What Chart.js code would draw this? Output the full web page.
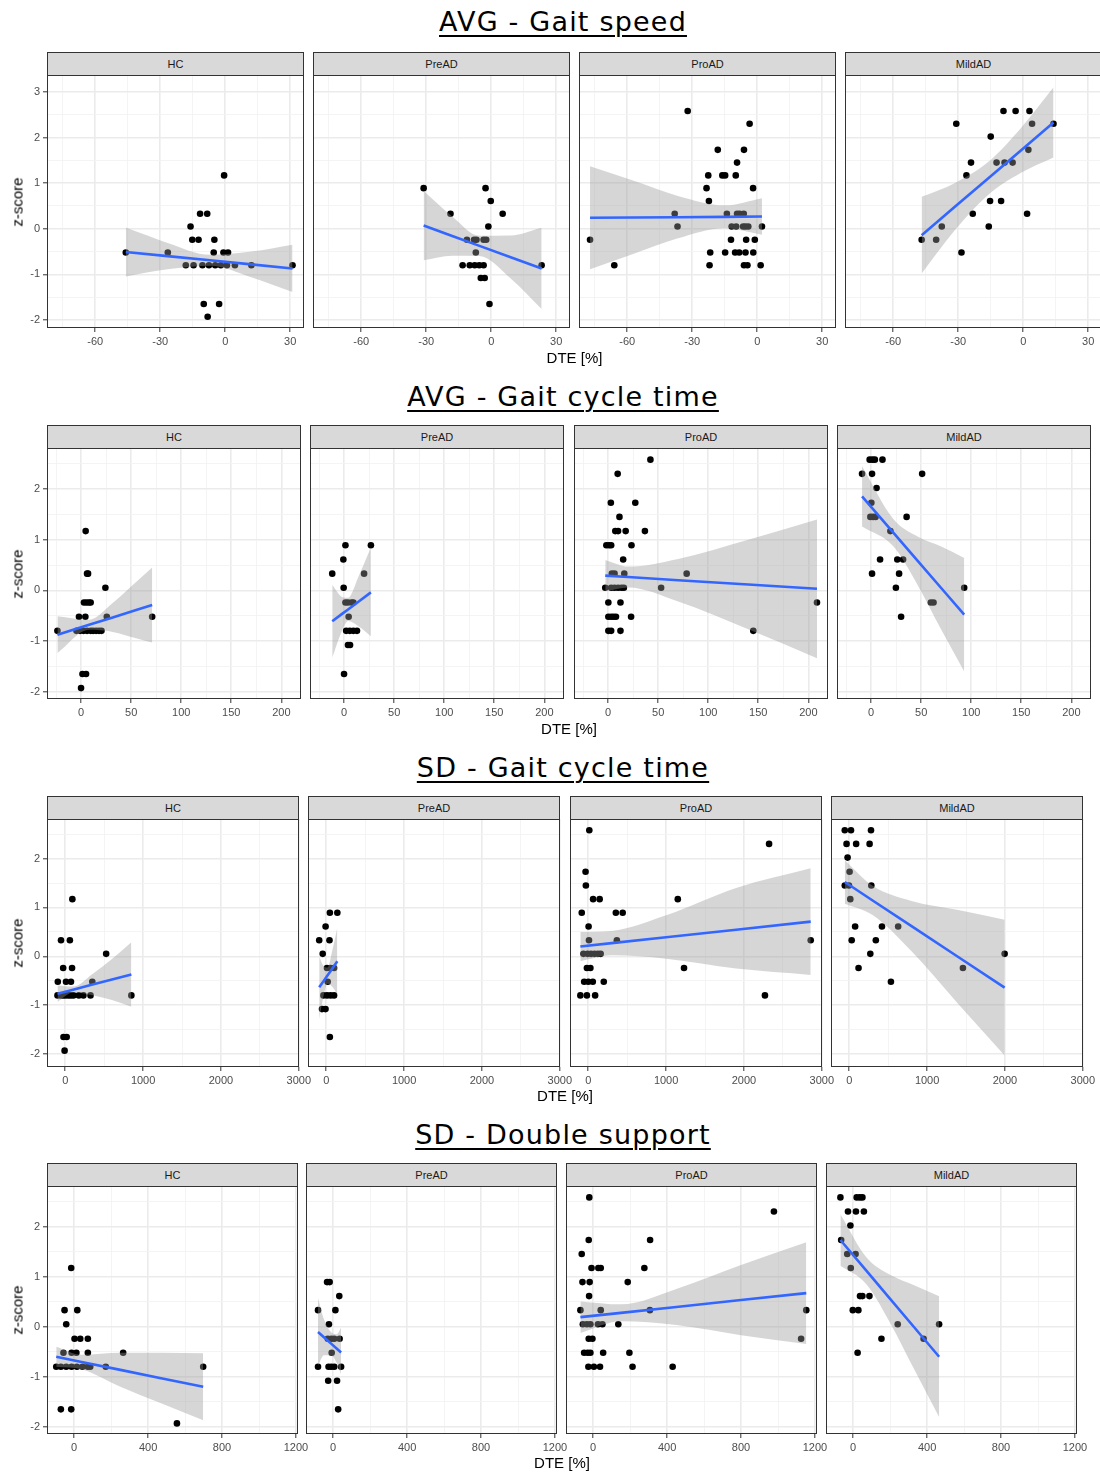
<!DOCTYPE html>
<html>
<head>
<meta charset="utf-8">
<title>DTE vs z-score</title>
<script src="https://cdn.jsdelivr.net/npm/chart.js@4.4.1/dist/chart.umd.min.js"></script>
<style>
  body { margin: 0; background: #fff; }
  #page { position: relative; width: 1100px; height: 1474px; overflow: hidden; font-family: "Liberation Sans", Arial, sans-serif; }
  .title { position: absolute; left: 0; width: 1126px; text-align: center; font-family: "DejaVu Sans", Verdana, sans-serif;
           font-size: 27px; line-height: 27px; letter-spacing: 1.2px; color: #000;
           text-decoration: underline; text-decoration-thickness: 2px; text-underline-offset: 4px; }
  .strip { position: absolute; box-sizing: border-box; background: #d9d9d9; border: 1px solid #333; color: #1a1a1a;
           font-size: 11px; text-align: center; }
  .xlab { position: absolute; font-size: 15px; color: #000; transform: translate(-50%, -50%); white-space: nowrap; }
  .ylab { position: absolute; font-size: 15px; color: #000; transform: translate(-50%, -50%) rotate(-90deg); white-space: nowrap; }
  canvas { position: absolute; }
</style>
</head>
<body>
<div id="page"></div>
<script>
// ---- labels ---------------------------------------------------------------
const groups = ['HC', 'PreAD', 'ProAD', 'MildAD'];
const titles = ['AVG - Gait speed', 'AVG - Gait cycle time', 'SD - Gait cycle time', 'SD - Double support'];
const xLabel = 'DTE [%]';
const yLabel = 'z-score';

// ---- axis limits and breaks -------------------------------------------------
const speedXLim = [-82.3, 36.4], speedYLim = [-2.175, 3.37];
const speedXMajor = [-60, -30, 0, 30], speedXMinor = [-75, -45, -15, 15];
const speedYMajor = [-2, -1, 0, 1, 2, 3], speedYMinor = [-1.5, -0.5, 0.5, 1.5, 2.5];

const cycleXLim = [-34, 219.6], cycleYLim = [-2.145, 2.81];
const cycleXMajor = [0, 50, 100, 150, 200], cycleXMinor = [-25, 25, 75, 125, 175];

const cycleSdXLim = [-235, 3003], cycleSdYLim = [-2.265, 2.81];
const cycleSdXMajor = [0, 1000, 2000, 3000], cycleSdXMinor = [500, 1500, 2500];

const dsSdXLim = [-147, 1211], dsSdYLim = [-2.142, 2.808];
const dsSdXMajor = [0, 400, 800, 1200], dsSdXMinor = [200, 600, 1000];

const zMajor = [-2, -1, 0, 1, 2], zMinor = [-1.5, -0.5, 0.5, 1.5, 2.5];

// ---- AVG - Gait speed -------------------------------------------------------
const speedHC_dte = [-45.9, -26.5, -16, -15.2, -12.3, -11.6, -8.3, -5, -5.3, -0.8, 1.3, -0.5, -9.9, -2.8, -8.1,
  -18.2, -14.6, -10.5, -7.5, -4.6, -2, 0.8, 4.5, 12.1, 31.1];
const speedHC_z = [-0.52, -0.52, 0.05, -0.24, -0.24, 0.33, 0.33, -0.24, -0.52, -0.52, -0.52, 1.17, -1.65, -1.65, -1.93,
  -0.8, -0.8, -0.8, -0.8, -0.8, -0.8, -0.8, -0.8, -0.8, -0.8];
const speedHC_fitX = [-45.9, -26.6, -7, 12, 31.1];
const speedHC_fit = [-0.51, -0.60, -0.69, -0.78, -0.87];
const speedHC_hi = [0.025, -0.31, -0.57, -0.50, -0.35];
const speedHC_lo = [-1.045, -0.89, -0.81, -1.06, -1.385];

const speedPreAD_dte = [-31.2, -18.8, -2.6, -0.2, 5.3, -1.3, -11.2, -7.9, -6.8, -3.5, -2.3, -7.1, -13.2, -9.9, -7.6, -5.5, -3.5, 23.3, -4.8, -3, -0.8];
const speedPreAD_z = [0.89, 0.33, 0.89, 0.61, 0.33, 0.05, -0.24, -0.24, -0.24, -0.24, -0.24, -0.52, -0.8, -0.8, -0.8, -0.8, -0.8, -0.8, -1.08, -1.08, -1.65];
const speedPreAD_fitX = [-31.2, -18, -5.4, 9, 23.3];
const speedPreAD_fit = [0.07, -0.158, -0.375, -0.623, -0.87];
const speedPreAD_hi = [0.83, 0.27, -0.155, -0.15, 0.02];
const speedPreAD_lo = [-0.69, -0.59, -0.595, -1.09, -1.76];

const speedProAD_dte = [-32.1, -3.5, -18.2, -6.1, -9.3, -22.6, -16.1, -14.8, -9.9, -23.4, -1.9, -22.3,
  -38.1, -14, -9.3, -8.1, -6.2, -36.8, -11.8, -9.7, -6.5, -5.4, -4.1, 2.2, -77.2, -12.1, -5.1, -1.1,
  -21.7, -14.8, -10.2, -8.3, -5.4, -1.8, -66, -22, -6.1, -4.5, 1.6];
const speedProAD_z = [2.58, 2.30, 1.73, 1.73, 1.45, 1.17, 1.17, 1.17, 1.17, 0.89, 0.89, 0.61,
  0.33, 0.33, 0.33, 0.33, 0.33, 0.05, 0.05, 0.05, 0.05, 0.05, 0.05, 0.05, -0.24, -0.24, -0.24, -0.24,
  -0.52, -0.52, -0.52, -0.52, -0.52, -0.52, -0.8, -0.8, -0.8, -0.8, -0.8];
const speedProAD_fitX = [-77.2, -57, -37, -15, 2.2];
const speedProAD_fit = [0.24, 0.246, 0.253, 0.261, 0.27];
const speedProAD_hi = [1.37, 1.05, 0.725, 0.513, 0.67];
const speedProAD_lo = [-0.89, -0.55, -0.215, 0.013, -0.13];

const speedMildAD_dte = [-9.1, -3.5, 2.9, -30.9, 4.1, 14, -15, 2.4, -24.1, -12.3, -8.6, -4.9, -26.2, -15.3, -10.2, -23.3, 1.8, -37.6, -15.9, -46.9, -40.2, -28.5];
const speedMildAD_z = [2.58, 2.58, 2.58, 2.30, 2.30, 2.30, 2.02, 1.73, 1.45, 1.45, 1.45, 1.45, 1.17, 0.61, 0.61, 0.33, 0.33, 0.05, 0.05, -0.24, -0.24, -0.52];
const speedMildAD_fitX = [-46.9, -31.7, -16.5, -1.2, 14];
const speedMildAD_fit = [-0.14, 0.476, 1.09, 1.71, 2.33];
const speedMildAD_hi = [0.70, 1.0, 1.45, 2.20, 3.1];
const speedMildAD_lo = [-0.98, -0.04, 0.73, 1.22, 1.56];

// ---- AVG - Gait cycle time ----------------------------------------------------
const cycleHC_dte = [4.6, 6, 7, 24.3, 2.9, 5.4, 7.9, 9.6, -2.1, 4.3, 25.7, 71,
  -23.6, -4.6, -1, 2.5, 6, 9.6, 12, 15, 17.9, 20.4, 1.4, 5, 0];
const cycleHC_z = [1.17, 0.33, 0.33, 0.05, -0.24, -0.24, -0.24, -0.24, -0.52, -0.52, -0.52, -0.52,
  -0.8, -0.8, -0.8, -0.8, -0.8, -0.8, -0.8, -0.8, -0.8, -0.8, -1.65, -1.65, -1.93];
const cycleHC_fitX = [-23.6, 8, 31.6, 55, 71];
const cycleHC_fit = [-0.875, -0.68, -0.534, -0.39, -0.29];
const cycleHC_hi = [-0.51, -0.58, -0.25, 0.165, 0.45];
const cycleHC_lo = [-1.24, -0.78, -0.82, -0.945, -1.03];

const cyclePreAD_dte = [1.4, 26.8, -0.7, -11.8, 20, -0.4, 1.4, 3.9, 7.5, 9.3, 4.6, 2.1, 5.7, 9.3, 12.9, 3.9, 6, 0];
const cyclePreAD_z = [0.89, 0.89, 0.61, 0.33, 0.33, 0.05, -0.24, -0.24, -0.24, -0.24, -0.52, -0.8, -0.8, -0.8, -0.8, -1.08, -1.08, -1.65];
const cyclePreAD_fitX = [-11.8, -2, 4, 15, 26.8];
const cyclePreAD_fit = [-0.61, -0.465, -0.377, -0.214, -0.04];
const cyclePreAD_hi = [0.11, -0.13, -0.147, 0.30, 0.845];
const cyclePreAD_lo = [-1.33, -0.80, -0.607, -0.72, -0.905];

const cycleProAD_dte = [42.3, 9.6, 2.8, 27.2, 11.4, 7.2, 10, 17.6, 36.8, -1.7, 1, 3.1, 23.4, 15.1,
  3.8, 6.5, 16.2, 78.5, -2.8, 3.1, 6.5, 10, 13.4, 15.8, 53, 0.3, 12.4, 208.6,
  0.3, 3.1, 5.5, 7.9, 23, 0.3, 3.1, 12.4, 145];
const cycleProAD_z = [2.58, 2.30, 1.73, 1.73, 1.45, 1.17, 1.17, 1.17, 1.17, 0.89, 0.89, 0.89, 0.89, 0.61,
  0.33, 0.33, 0.33, 0.33, 0.05, 0.05, 0.05, 0.05, 0.05, 0.05, 0.05, -0.24, -0.24, -0.24,
  -0.52, -0.52, -0.52, -0.52, -0.52, -0.8, -0.8, -0.8, -0.8];
const cycleProAD_fitX = [-2.8, 20, 70, 140, 208.6];
const cycleProAD_fit = [0.29, 0.262, 0.200, 0.114, 0.03];
const cycleProAD_hi = [0.60, 0.47, 0.62, 1.0, 1.40];
const cycleProAD_lo = [-0.02, 0.055, -0.22, -0.77, -1.34];

const cycleMildAD_dte = [-1.4, 1.4, 3.8, 11.4, -9, 1, 51, 5.5, 0.3, -0.7, 2, 4.5, 35.5, 19.3, 9, 26.2, 32, 1, 28, 24.8, 93, 59.7, 62.4, 30];
const cycleMildAD_z = [2.58, 2.58, 2.58, 2.58, 2.30, 2.30, 2.30, 2.02, 1.73, 1.45, 1.45, 1.45, 1.45, 1.17, 0.61, 0.61, 0.61, 0.33, 0.33, 0.05, 0.05, -0.24, -0.24, -0.52];
const cycleMildAD_fitX = [-9, 22, 47, 70, 93];
const cycleMildAD_fit = [1.855, 1.145, 0.573, 0.046, -0.48];
const cycleMildAD_hi = [2.45, 1.415, 1.058, 0.866, 0.64];
const cycleMildAD_lo = [1.26, 0.875, 0.088, -0.774, -1.60];

// ---- SD - Gait cycle time -----------------------------------------------------
const cycleSdHC_dte = [91, -55, 59, 525, -27, 87, -96, 9, 73, 347,
  -100, -60, -32, 0, 37, 70, 105, 174, 233, 324, 849, -23, 18, -9];
const cycleSdHC_z = [1.17, 0.33, 0.33, 0.05, -0.24, -0.24, -0.52, -0.52, -0.52, -0.52,
  -0.8, -0.8, -0.8, -0.8, -0.8, -0.8, -0.8, -0.8, -0.8, -0.8, -0.8, -1.65, -1.65, -1.93];
const cycleSdHC_fitX = [-100, 100, 350, 600, 849];
const cycleSdHC_fit = [-0.765, -0.682, -0.578, -0.474, -0.37];
const cycleSdHC_hi = [-0.595, -0.62, -0.36, -0.054, 0.29];
const cycleSdHC_lo = [-0.935, -0.742, -0.795, -0.894, -1.03];

const cycleSdPreAD_dte = [46, 142, -9, -91, 41, -46, 9, 55, 100, 18, -37, 9, 55, 100, -55, -10, 46];
const cycleSdPreAD_z = [0.89, 0.89, 0.61, 0.33, 0.33, 0.05, -0.24, -0.24, -0.24, -0.52, -0.8, -0.8, -0.8, -0.8, -1.08, -1.08, -1.65];
const cycleSdPreAD_fitX = [-91, -40, 15, 80, 142];
const cycleSdPreAD_fit = [-0.635, -0.518, -0.392, -0.243, -0.10];
const cycleSdPreAD_hi = [-0.01, -0.19, -0.23, 0.14, 0.585];
const cycleSdPreAD_lo = [-1.29, -0.85, -0.56, -0.63, -0.78];

const cycleSdProAD_dte = [13, 2323, -35, -31, 62, 146, 1150, -84, 354, 442, 4, 9, 367, 2858,
  -62, -9, 35, 80, 124, 159, -18, 27, 1230, -53, 0, 58, 199, -102, -18, 88, 2270];
const cycleSdProAD_z = [2.58, 2.30, 1.73, 1.45, 1.17, 1.17, 1.17, 0.89, 0.89, 0.89, 0.61, 0.33, 0.33, 0.33,
  0.05, 0.05, 0.05, 0.05, 0.05, 0.05, -0.24, -0.24, -0.24, -0.52, -0.52, -0.52, -0.52, -0.8, -0.8, -0.8, -0.8];
const cycleSdProAD_fitX = [-102, 300, 1000, 1900, 2858];
const cycleSdProAD_fit = [0.20, 0.27, 0.39, 0.545, 0.71];
const cycleSdProAD_hi = [0.50, 0.52, 0.84, 1.40, 1.80];
const cycleSdProAD_lo = [-0.10, 0.02, -0.05, -0.25, -0.38];

const cycleSdMildAD_dte = [-58, 22, 279, -35, 88, 261, -22, 4, -58, -4, 283, 13, 75, 420, 628, 31, 341, 270, 1996, 119, 1460, 535];
const cycleSdMildAD_z = [2.58, 2.58, 2.58, 2.30, 2.30, 2.30, 2.02, 1.73, 1.45, 1.45, 1.45, 1.17, 0.61, 0.61, 0.61, 0.33, 0.33, 0.05, 0.05, -0.24, -0.24, -0.52];
const cycleSdMildAD_fitX = [-58, 300, 800, 1400, 1996];
const cycleSdMildAD_fit = [1.52, 1.143, 0.617, -0.014, -0.64];
const cycleSdMildAD_hi = [1.965, 1.443, 1.132, 0.946, 0.75];
const cycleSdMildAD_lo = [1.075, 0.843, 0.102, -0.974, -2.03];

// ---- SD - Double support ------------------------------------------------------
const dsSdHC_dte = [-16, -52, 17, -43, 2, 33, 74, -58, -14, 12, 74, 265,
  -97, -72, -43, -14, 15, 45, 74, 87, 171, 698, -72, -16, 556];
const dsSdHC_z = [1.17, 0.33, 0.33, 0.05, -0.24, -0.24, -0.24, -0.52, -0.52, -0.52, -0.52, -0.52,
  -0.8, -0.8, -0.8, -0.8, -0.8, -0.8, -0.8, -0.8, -0.8, -0.8, -1.65, -1.65, -1.93];
const dsSdHC_fitX = [-97, 40, 250, 470, 698];
const dsSdHC_fit = [-0.60, -0.703, -0.862, -1.028, -1.20];
const dsSdHC_hi = [-0.40, -0.56, -0.52, -0.52, -0.53];
const dsSdHC_lo = [-0.80, -0.85, -1.2, -1.53, -1.87];

const dsSdPreAD_dte = [-33, -19, 33, -82, 12, -23, -29, -10, 6, 35, -8, -82, -25, -10, 6, 43, -27, 21, 27];
const dsSdPreAD_z = [0.89, 0.89, 0.61, 0.33, 0.33, 0.05, -0.24, -0.24, -0.24, -0.24, -0.52, -0.8, -0.8, -0.8, -0.8, -0.8, -1.08, -1.08, -1.65];
const dsSdPreAD_fitX = [-82, -50, -8, 20, 43];
const dsSdPreAD_fit = [-0.106, -0.21, -0.348, -0.44, -0.515];
const dsSdPreAD_hi = [0.57, 0.15, -0.12, -0.15, -0.02];
const dsSdPreAD_lo = [-0.78, -0.57, -0.58, -0.73, -0.95];

const dsSdProAD_dte = [-21, 978, -24, 308, -62, -9, 28, 41, 277, -58, -19, 187, -22, -69, 41, 307, 1153,
  -56, -34, -15, 26, 50, 136, -24, -4, 1125, -49, -30, -15, 54, 196, -26, 4, 37, 213, 430];
const dsSdProAD_z = [2.58, 2.30, 1.73, 1.73, 1.45, 1.17, 1.17, 1.17, 1.17, 0.89, 0.89, 0.89, 0.61, 0.33, 0.33, 0.33, 0.33,
  0.05, 0.05, 0.05, 0.05, 0.05, 0.05, -0.24, -0.24, -0.24, -0.52, -0.52, -0.52, -0.52, -0.52, -0.8, -0.8, -0.8, -0.8, -0.8];
const dsSdProAD_fitX = [-69, 150, 450, 800, 1153];
const dsSdProAD_fit = [0.19, 0.276, 0.394, 0.531, 0.67];
const dsSdProAD_hi = [0.505, 0.446, 0.754, 1.231, 1.685];
const dsSdProAD_lo = [-0.125, 0.106, 0.034, -0.169, -0.345];

const dsSdMildAD_dte = [-69, 19, 36, 50, -28, 15, 58, -15, -65, -32, 13, -13, 37, 50, 88, -2, 28, 241, 465, 153, 381, 24];
const dsSdMildAD_z = [2.58, 2.58, 2.58, 2.58, 2.30, 2.30, 2.30, 2.02, 1.73, 1.45, 1.45, 1.17, 0.61, 0.61, 0.61, 0.33, 0.33, 0.05, 0.05, -0.24, -0.24, -0.52];
const dsSdMildAD_fitX = [-69, 70, 200, 330, 465];
const dsSdMildAD_fit = [1.73, 1.123, 0.556, -0.011, -0.60];
const dsSdMildAD_hi = [2.245, 1.393, 1.036, 0.829, 0.605];
const dsSdMildAD_lo = [1.215, 0.853, 0.076, -0.851, -1.805];

// ---- page geometry (px) ---------------------------------------------------------
const rowBoxes = [
  { titleTop: 8,    stripTop: 52,   plotTop: 75,   plotBottom: 328,  lefts: [47, 313, 579, 845], width: 257, xlabY: 357 },
  { titleTop: 383,  stripTop: 425,  plotTop: 448,  plotBottom: 699,  lefts: [47, 310, 574, 837], width: 254, xlabY: 728 },
  { titleTop: 754,  stripTop: 796,  plotTop: 819,  plotBottom: 1067, lefts: [47, 308, 570, 831], width: 252, xlabY: 1095 },
  { titleTop: 1121, stripTop: 1163, plotTop: 1186, plotBottom: 1434, lefts: [47, 306, 566, 826], width: 251, xlabY: 1462 }
];

const rows = [
  { xLim: speedXLim, yLim: speedYLim, xMajor: speedXMajor, xMinor: speedXMinor, yMajor: speedYMajor, yMinor: speedYMinor,
    panels: [
      [speedHC_dte, speedHC_z, speedHC_fitX, speedHC_fit, speedHC_lo, speedHC_hi],
      [speedPreAD_dte, speedPreAD_z, speedPreAD_fitX, speedPreAD_fit, speedPreAD_lo, speedPreAD_hi],
      [speedProAD_dte, speedProAD_z, speedProAD_fitX, speedProAD_fit, speedProAD_lo, speedProAD_hi],
      [speedMildAD_dte, speedMildAD_z, speedMildAD_fitX, speedMildAD_fit, speedMildAD_lo, speedMildAD_hi]] },
  { xLim: cycleXLim, yLim: cycleYLim, xMajor: cycleXMajor, xMinor: cycleXMinor, yMajor: zMajor, yMinor: zMinor,
    panels: [
      [cycleHC_dte, cycleHC_z, cycleHC_fitX, cycleHC_fit, cycleHC_lo, cycleHC_hi],
      [cyclePreAD_dte, cyclePreAD_z, cyclePreAD_fitX, cyclePreAD_fit, cyclePreAD_lo, cyclePreAD_hi],
      [cycleProAD_dte, cycleProAD_z, cycleProAD_fitX, cycleProAD_fit, cycleProAD_lo, cycleProAD_hi],
      [cycleMildAD_dte, cycleMildAD_z, cycleMildAD_fitX, cycleMildAD_fit, cycleMildAD_lo, cycleMildAD_hi]] },
  { xLim: cycleSdXLim, yLim: cycleSdYLim, xMajor: cycleSdXMajor, xMinor: cycleSdXMinor, yMajor: zMajor, yMinor: zMinor,
    panels: [
      [cycleSdHC_dte, cycleSdHC_z, cycleSdHC_fitX, cycleSdHC_fit, cycleSdHC_lo, cycleSdHC_hi],
      [cycleSdPreAD_dte, cycleSdPreAD_z, cycleSdPreAD_fitX, cycleSdPreAD_fit, cycleSdPreAD_lo, cycleSdPreAD_hi],
      [cycleSdProAD_dte, cycleSdProAD_z, cycleSdProAD_fitX, cycleSdProAD_fit, cycleSdProAD_lo, cycleSdProAD_hi],
      [cycleSdMildAD_dte, cycleSdMildAD_z, cycleSdMildAD_fitX, cycleSdMildAD_fit, cycleSdMildAD_lo, cycleSdMildAD_hi]] },
  { xLim: dsSdXLim, yLim: dsSdYLim, xMajor: dsSdXMajor, xMinor: dsSdXMinor, yMajor: zMajor, yMinor: zMinor,
    panels: [
      [dsSdHC_dte, dsSdHC_z, dsSdHC_fitX, dsSdHC_fit, dsSdHC_lo, dsSdHC_hi],
      [dsSdPreAD_dte, dsSdPreAD_z, dsSdPreAD_fitX, dsSdPreAD_fit, dsSdPreAD_lo, dsSdPreAD_hi],
      [dsSdProAD_dte, dsSdProAD_z, dsSdProAD_fitX, dsSdProAD_fit, dsSdProAD_lo, dsSdProAD_hi],
      [dsSdMildAD_dte, dsSdMildAD_z, dsSdMildAD_fitX, dsSdMildAD_fit, dsSdMildAD_lo, dsSdMildAD_hi]] }
];

// ---- helpers --------------------------------------------------------------------
const zip = (xs, ys) => xs.map((x, i) => ({ x: x, y: ys[i] }));
const isIn = (arr, v) => arr.some(a => Math.abs(a - v) < 1e-9);

// ggplot-like panel border, drawn on top of everything
const panelBorder = {
  id: 'panelBorder',
  afterDraw(chart) {
    const { ctx, chartArea: a } = chart;
    ctx.save();
    ctx.strokeStyle = '#333333';
    ctx.lineWidth = 1;
    ctx.strokeRect(a.left + 0.5, a.top + 0.5, a.right - a.left - 1, a.bottom - a.top - 1);
    ctx.restore();
  }
};

function axisOpts(lim, major, minor, showLabels, size, horizontal) {
  const all = major.concat(minor).sort((a, b) => a - b);
  const maj = c => c.tick && isIn(major, c.tick.value);
  return {
    type: 'linear', min: lim[0], max: lim[1],
    afterBuildTicks: ax => { ax.ticks = all.map(v => ({ value: v })); },
    afterFit: ax => { if (horizontal) ax.height = size; else ax.width = size; },
    border: { display: false },
    grid: {
      color: c => maj(c) ? '#ebebeb' : '#f3f3f3',
      lineWidth: c => maj(c) ? 1.6 : 0.9,
      drawTicks: showLabels,
      tickLength: 4,
      tickWidth: 1,
      tickColor: c => maj(c) ? '#333333' : 'rgba(0,0,0,0)'
    },
    ticks: {
      display: showLabels, autoSkip: false, maxRotation: 0, minRotation: 0, padding: 3,
      color: '#4d4d4d', font: { family: 'Liberation Sans', size: 11 },
      callback: v => isIn(major, v) ? String(v) : ''
    }
  };
}

// ---- build page -------------------------------------------------------------------
const page = document.getElementById('page');

rows.forEach((row, r) => {
  const box = rowBoxes[r];
  const plotH = box.plotBottom - box.plotTop;

  const t = document.createElement('div');
  t.className = 'title';
  t.style.top = box.titleTop + 'px';
  t.textContent = titles[r];
  page.appendChild(t);

  row.panels.forEach((p, g) => {
    const first = g === 0;
    const padL = first ? 45 : 0, padT = 12, padR = 22, padB = 22;
    const left = box.lefts[g];

    const strip = document.createElement('div');
    strip.className = 'strip';
    strip.style.cssText = `left:${left}px;top:${box.stripTop}px;width:${box.width}px;height:${box.plotTop - box.stripTop + 1}px;line-height:${box.plotTop - box.stripTop - 1}px`;
    strip.textContent = groups[g];
    page.appendChild(strip);

    const cv = document.createElement('canvas');
    cv.width = padL + box.width + padR;
    cv.height = padT + plotH + padB;
    cv.style.left = (left - padL) + 'px';
    cv.style.top = (box.plotTop - padT) + 'px';
    cv.style.width = cv.width + 'px';
    cv.style.height = cv.height + 'px';
    page.appendChild(cv);

    const [dte, z, fitX, fit, lo, hi] = p;
    new Chart(cv, {
      type: 'line',
      data: {
        datasets: [
          { data: zip(fitX, fit), borderColor: '#3366FF', borderWidth: 2.6, pointRadius: 0, tension: 0, fill: false, order: 1 },
          { data: zip(fitX, hi), borderWidth: 0, borderColor: 'rgba(0,0,0,0)', pointRadius: 0,
            cubicInterpolationMode: 'monotone', backgroundColor: 'rgba(153,153,153,0.4)', fill: '+1', order: 2 },
          { data: zip(fitX, lo), borderWidth: 0, borderColor: 'rgba(0,0,0,0)', pointRadius: 0,
            cubicInterpolationMode: 'monotone', fill: false, order: 2 },
          { data: zip(dte, z), showLine: false, pointRadius: 3.3, pointBackgroundColor: '#000000',
            pointBorderWidth: 0, order: 3 }
        ]
      },
      options: {
        responsive: false, animation: false, devicePixelRatio: 1,
        layout: { autoPadding: false, padding: { left: 0, top: padT, right: padR, bottom: 0 } },
        plugins: { legend: { display: false }, tooltip: { enabled: false } },
        scales: {
          x: axisOpts(row.xLim, row.xMajor, row.xMinor, true, padB, true),
          y: axisOpts(row.yLim, row.yMajor, row.yMinor, first, padL, false)
        }
      },
      plugins: [panelBorder]
    });
  });

  const rightEdge = box.lefts[3] + box.width;
  const xl = document.createElement('div');
  xl.className = 'xlab';
  xl.style.left = ((box.lefts[0] + rightEdge) / 2) + 'px';
  xl.style.top = box.xlabY + 'px';
  xl.textContent = xLabel;
  page.appendChild(xl);

  const yl = document.createElement('div');
  yl.className = 'ylab';
  yl.style.left = '17px';
  yl.style.top = ((box.plotTop + box.plotBottom) / 2) + 'px';
  yl.textContent = yLabel;
  page.appendChild(yl);
});
</script>
</body>
</html>
